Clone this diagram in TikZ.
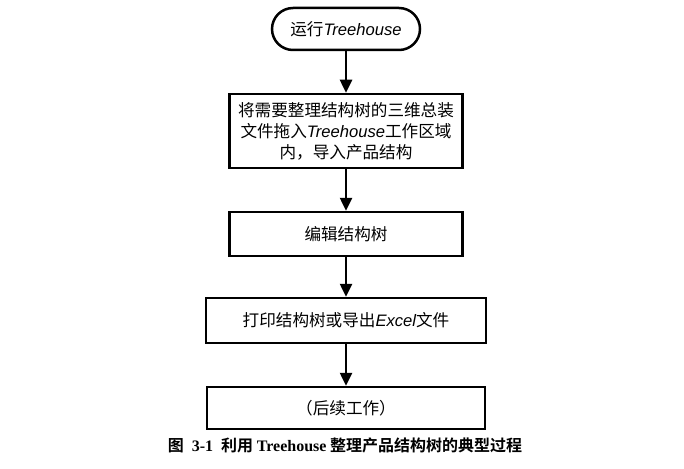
\documentclass[tikz,border=0pt]{standalone}
\usepackage{fontspec}
\usetikzlibrary{arrows.meta}
\newfontfamily\cjk{Noto Sans CJK SC}
\newfontfamily\cjkb{Noto Sans CJK SC Bold}
\newfontfamily\lat{Liberation Sans}
\newfontfamily\capser{Liberation Serif}
\newcommand{\trh}{{\lat\itshape Treehouse}}
\tikzset{
  flowbox/.style={draw, line width=2.5pt, minimum width=233pt, align=center,
    font=\cjk\fontsize{16.6}{21}\selectfont, inner sep=0pt},
  flowarrow/.style={line width=2.5pt, -{Triangle[length=13pt,width=12pt]}}
}
\begin{document}
\begin{tikzpicture}[x=1pt,y=-1pt]
\useasboundingbox (0,0) rectangle (684,468);
% steps
\node[flowbox, minimum width=148pt, minimum height=42pt, rounded corners=21pt] (start) at (346,29) {运行\trh};
\node[flowbox, minimum height=74pt] (load) at (346,131) {将需要整理结构树的三维总装\\文件拖入\trh 工作区域\\内，导入产品结构};
\node[flowbox, minimum height=44pt] (edit) at (346,234) {编辑结构树};
\node[flowbox, minimum width=280pt, minimum height=45pt] (print) at (346,320.5) {打印结构树或导出{\lat\itshape Excel}文件};
\node[flowbox, minimum width=278pt, minimum height=42pt] (next) at (346,408) {（后续工作）};
% caption
\node[font=\fontsize{16}{18}\selectfont] (cap) at (345,445) {\cjkb 图\hspace{8pt}{\capser\bfseries 3-1}\hspace{8pt}利用 {\capser\bfseries Treehouse} 整理产品结构树的典型过程};
% arrows
\draw[flowarrow] (start) -- (load);
\draw[flowarrow] (load) -- (edit);
\draw[flowarrow] (edit) -- (print);
\draw[flowarrow] (print) -- (next);
\end{tikzpicture}
\end{document}
